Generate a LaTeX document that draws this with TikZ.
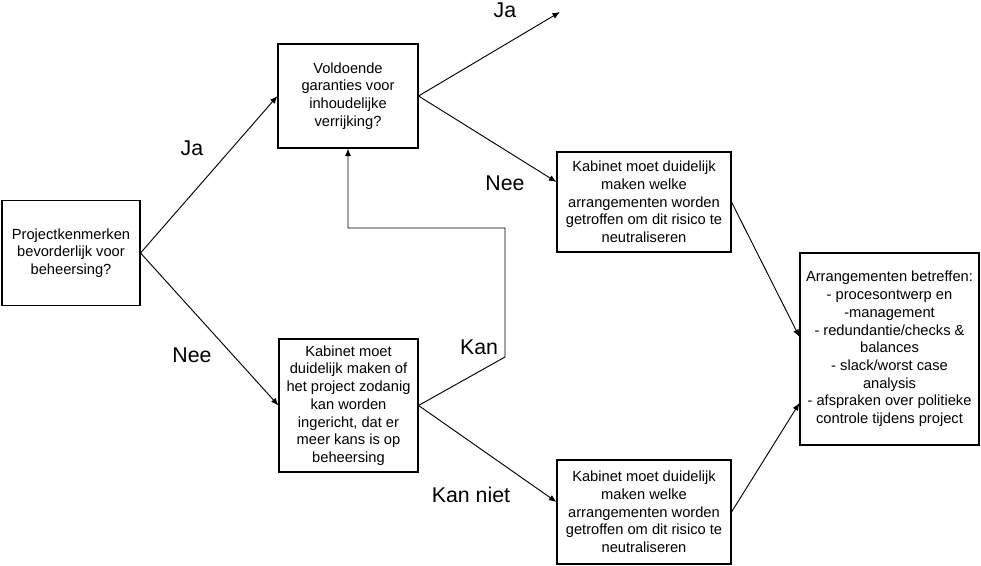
\documentclass[tikz,border=0pt]{standalone}
\usepackage{fontspec}
\setmainfont{Liberation Sans}
\usetikzlibrary{arrows.meta}

\begin{document}
\begin{tikzpicture}[x=0.75pt, y=-0.75pt,
	kader/.style={draw, line width=0.8pt, align=center, inner sep=2pt, font=\fontsize{11}{13.3}\selectfont},
	lbl/.style={font=\fontsize{16}{19}\selectfont},
	pijl/.style={-{Latex[length=2mm, width=1.6mm]}, line width=0.7pt}]
	\useasboundingbox (0,0) rectangle (981,566);
	% vakken
	\node[kader, minimum width=103.5pt, minimum height=78.75pt] (proj) at (71,253) {Projectkenmerken\\bevorderlijk voor\\beheersing?};
	\node[kader, minimum width=105pt, minimum height=78pt] (gar) at (348,96) {Voldoende\\garanties voor\\inhoudelijke\\verrijking?};
	\node[kader, minimum width=104.25pt, minimum height=99.75pt] (inr) at (348.5,405.5) {Kabinet moet\\duidelijk maken of\\het project zodanig\\kan worden\\ingericht, dat er\\meer kans is op\\beheersing};
	\node[kader, minimum width=130.5pt, minimum height=75pt] (arr1) at (644,202) {Kabinet moet duidelijk\\maken welke\\arrangementen worden\\getroffen om dit risico te\\neutraliseren};
	\node[kader, minimum width=130.5pt, minimum height=78pt] (arr2) at (644,512) {Kabinet moet duidelijk\\maken welke\\arrangementen worden\\getroffen om dit risico te\\neutraliseren};
	\node[kader, minimum width=134.25pt, minimum height=144pt] (betr) at (889.5,349) {Arrangementen betreffen:\\- procesontwerp en\\-management\\- redundantie/checks \&\\balances\\- slack/worst case\\analysis\\- afspraken over politieke\\controle tijdens project};
	% hulppunten
	\coordinate (open) at (560,12);
	\coordinate (kan1) at (505,357);
	\coordinate (kan2) at (505,228);
	% pijlen
	\draw[pijl] (proj.east) -- (gar.west);
	\draw[pijl] (proj.east) -- (inr.west);
	\draw[pijl] (gar.east) -- (open);
	\draw[pijl] (gar.east) -- ([yshift=15pt]arr1.west);
	\draw[pijl] (inr.east) -- (kan1) -- (kan2) -| (gar.south);
	\draw[pijl] (inr.east) -- ([yshift=7.5pt]arr2.west);
	\draw[pijl] (arr1.east) -- ([yshift=9pt]betr.west);
	\draw[pijl] (arr2.east) -- ([yshift=-40.5pt]betr.west);
	% labels
	\node[lbl] (ja1) at (192,148) {Ja};
	\node[lbl] (nee1) at (192,355) {Nee};
	\node[lbl] (ja2) at (505,10) {Ja};
	\node[lbl] (nee2) at (505,183) {Nee};
	\node[lbl] (kan) at (479,347) {Kan};
	\node[lbl] (kanniet) at (471,495) {Kan niet};
\end{tikzpicture}
\end{document}
